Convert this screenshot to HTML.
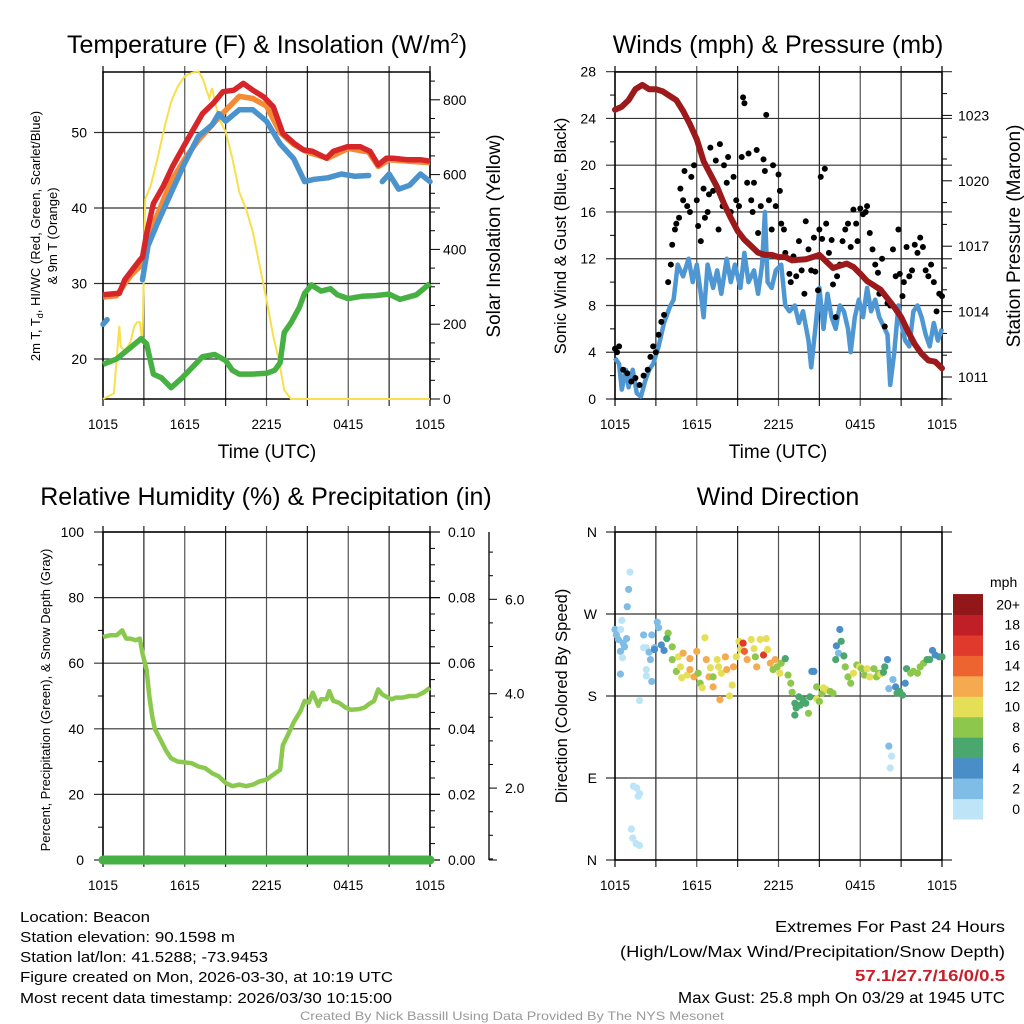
<!DOCTYPE html>
<html><head><meta charset="utf-8"><style>
html,body{margin:0;padding:0;background:#fff;}
svg{display:block;font-family:"Liberation Sans",Arial,sans-serif;}
</style></head><body>
<svg id="fig" width="1024" height="1024" viewBox="0 0 1024 1024" xmlns="http://www.w3.org/2000/svg"></svg>
<script>
// ---------- DATA ----------
const timeLabels = ["1015","1615","2215","0415","1015"];
const tempHours = [0,1.2,1.6,2.7,2.9,3.2,3.7,4.4,5.1,5.9,6.6,7.3,8.1,8.8,9.6,10.3,11.0,11.8,12.5,13.2,14.0,14.7,15.4,16.4,16.9,17.9,18.9,19.6,20.2,20.8,21.3,22.3,23.3,24];
const tempRed = [28.5,28.7,30.5,33.1,33.5,36.6,40.6,42.8,45.5,48.1,50.3,52.5,53.9,55.4,55.6,56.5,55.6,54.7,53.4,49.9,48.6,47.7,47.5,46.6,47.5,48.1,48.1,47.5,45.7,46.6,46.6,46.4,46.4,46.2];
const t9Hours = [0,1,2,3,3.5,5,6,7,8.5,10,11,12,13,14,15,16.5,18,19.5,20.2,21,22.5,24];
const temp9m = [28.2,28.4,31,32.8,37,43.5,46.5,49,52,54.8,54.5,53.5,50,48.4,47.4,46.6,47.9,47.4,45.5,46.4,46.2,46.0];
const wcHours = [0,0.3,null,2.9,3.3,4,5,6,7,8,8.5,9,10,11,12,13,14,14.8,15.5,16.5,17.5,18.5,19.5,null,20.5,21,21.7,22.5,23.3,24];
const tempBlue = [24.6,25.2,null,30.5,35,38,42,46,49.5,51,52.5,51.5,53,53,51.5,48.5,46.5,43.5,43.8,44,44.5,44.2,44.3,null,43.5,44.5,42.5,43,44.5,43.5];
const tdHours = [0,1,2,2.8,3.2,3.7,4.3,5,5.8,6.5,7.3,8.2,9,9.5,10,11,12,12.6,13,13.3,13.8,14.4,14.8,15.3,16,16.7,17.2,18,19,20,21,21.8,23,24];
const tempGreen = [19.3,20,21.5,22.7,22,18,17.5,16.2,17.5,18.8,20.3,20.6,19.8,18.5,18,18,18.1,18.5,19.5,23.5,24.8,26.8,28.7,29.8,29,29.3,28.5,28,28.3,28.4,28.6,27.9,28.5,30];
const solHours = [0,0.8,1.2,1.3,1.6,2,2.3,2.5,2.7,2.9,3.1,3.5,4,4.5,5,5.5,6,6.5,7,7.3,7.8,8,8.5,9,9.5,10,10.5,11,11.5,12,12.5,12.9,13.3,13.8,24];
const solar = [0,15,195,140,130,150,195,205,205,150,535,570,643,724,795,836,863,872,876,858,804,831,750,715,643,553,508,446,356,266,168,105,24,0,0];
const presHours = [0,0.5,1,1.5,2,2.5,3,3.5,4,4.5,5,5.5,6,6.5,7,7.5,8,8.5,9,9.5,10,10.5,11,11.5,12,12.5,13,13.5,14,14.5,15,15.5,16,16.5,17,17.5,18,18.5,19,19.5,20,20.5,21,21.5,22,22.5,23,23.5,24];
const pressure = [1023.26,1023.4,1023.7,1024.2,1024.4,1024.2,1024.2,1024.1,1023.9,1023.7,1023.2,1022.6,1021.9,1020.9,1020.3,1019.7,1018.95,1018.3,1017.7,1017.3,1017.0,1016.7,1016.6,1016.6,1016.5,1016.5,1016.35,1016.38,1016.4,1016.5,1016.6,1016.3,1016.0,1016.1,1016.2,1016.05,1015.74,1015.4,1015.2,1015.0,1014.6,1014.2,1013.75,1013.1,1012.5,1012.07,1011.76,1011.7,1011.4];
const windHours = [0,0.3,0.5,0.8,1,1.3,1.6,1.9,2.2,2.5,2.8,3.2,3.6,4,4.3,4.6,5,5.4,5.7,6,6.3,6.5,6.8,7.2,7.5,7.8,8.2,8.5,8.8,9.2,9.5,9.8,10.2,10.5,10.8,11,11.2,11.5,11.8,12.2,12.5,12.8,13.2,13.5,13.8,14.2,14.4,14.7,15,15.3,15.6,15.9,16.2,16.5,16.8,17.1,17.3,17.6,17.9,18.2,18.5,18.8,19.1,19.4,19.8,20,20.2,20.5,20.8,21,21.3,21.6,21.9,22.2,22.5,22.8,23.1,23.4,23.7,24];
const windSpeed = [3.5,3.0,0.8,2.5,1.0,2.5,0.5,0.2,1.5,2.5,3.0,4.5,6.5,7.8,8.5,11.5,10.5,12,10,11.5,9,7,11.5,9.5,11,9,12,10,11.5,9.5,12.5,10,11,9,11.5,16,10,9.5,11,11.5,8,7.5,8,6.5,7.5,5,2.7,6,9.5,6,9,7,6,8,7.5,6,4.0,7,8.5,7,9.5,7.5,8.5,7,6,5.5,1.2,4,8,6.5,5,4.5,7.5,8,7,5.5,4.5,6.5,5,6];
const gustHours = [0,0.15,0.3,0.6,0.9,1.2,1.5,1.8,2.1,2.4,2.6,2.8,3,3.2,3.4,3.6,3.9,4.1,4.2,4.4,4.5,4.7,4.8,5.0,5.1,5.3,5.5,5.6,5.8,6.0,6.1,6.3,6.5,6.6,6.8,6.9,7.0,7.2,7.4,7.6,7.7,7.9,8.0,8.2,8.3,8.5,8.7,8.9,9.1,9.3,9.4,9.5,9.7,9.8,10.0,10.1,10.2,10.4,10.5,10.7,10.9,11.0,11.1,11.3,11.5,11.6,11.8,12.0,12.1,12.2,12.4,12.5,12.8,12.9,13.1,13.3,13.5,13.7,13.9,14.0,14.2,14.4,14.6,14.7,14.9,15.0,15.1,15.2,15.4,15.5,15.7,15.9,16.0,16.2,16.3,16.5,16.7,16.9,17.1,17.3,17.5,17.7,17.8,18.0,18.2,18.4,18.5,18.7,18.9,19.1,19.3,19.4,19.6,19.8,20.0,20.2,20.4,20.6,20.8,20.9,21.1,21.2,21.4,21.6,21.8,22.0,22.2,22.4,22.6,22.8,23.0,23.2,23.4,23.6,23.8,24];
const gustSpeed = [4.3,4.0,4.5,2.5,2.2,1.5,1.8,1.2,2.0,2.5,3.6,4.5,4.0,5.5,6.6,7.2,10.0,11.5,13.2,14.5,15,15.5,18,17.0,19.5,16.5,16.0,19,20,17,14.8,13.5,18,15.5,16.0,17.5,21.5,17.8,20.4,14.5,21.8,16.5,20,18.5,20.7,16,19,17,16.5,20.7,25.8,25.3,18.5,21,17,16,18.5,21.3,14.2,16.5,20.5,19.5,24.3,17,14.5,20,16.5,19.2,17.8,15,14.5,12.5,10.7,10.0,12.2,10.5,13.5,11,9,15.2,12.8,11,13.8,10.9,9.3,14.5,19,13.7,19.7,15,12.5,13.6,9.8,7,10.5,11.5,13.5,14.5,15,13,16.2,15,13.5,16.3,15.8,16,16.5,14.2,12.8,11.5,10.8,9.0,12,6.2,8.2,8.0,12.8,10.5,14.5,10.7,8.8,10.0,13,10.5,11,13.2,12.5,13.8,13,11.0,10.5,11.5,10.0,7.5,9.0,8.8];
const rhHours = [0,0.5,1,1.4,1.7,2,2.4,2.7,2.9,3.2,3.4,3.6,3.8,4.3,4.6,5,5.5,6,6.5,7,7.5,8,8.5,9,9.5,10,10.5,11,11.5,12,12.5,13,13.2,13.5,14,14.5,14.8,15.1,15.4,15.8,16,16.4,16.6,16.9,17.3,17.8,18.2,18.8,19.2,19.5,19.9,20.2,20.5,20.9,21.2,21.5,22,22.5,23,23.5,24];
const rh = [68,68.5,68.5,70,67.5,67.5,67,67.5,63,58,50,44,40,36,33.5,31,30,29.8,29.5,28.5,28,26.5,25.5,23.5,22.5,23,22.5,23,24,24.5,26,27.5,35,37.5,42,45.5,48.5,48,51,47,49,49,51.5,48.5,48,46.5,45.8,46,46.5,47.5,48.5,52,50.5,49.5,49,49.5,49.5,50,50,51,52.5];
const precipHours = [0,24];
const precip = [0,0];
const dirHours = [0,0.1,0.25,0.4,0.6,0.7,0.85,0.5,0.42,0.55,0.4,0.9,1.0,1.1,1.8,1.35,1.6,1.8,1.7,1.2,1.3,1.55,1.8,2.1,2.1,2.3,2.3,2.3,2.5,2.6,2.7,2.7,2.9,3.1,3.2,3.4,2.9,3.6,3.9,3.8,4.2,4.2,4.5,4.65,4.8,5.0,5.3,5.5,5.5,5.8,6.0,4.9,6.1,6.25,6.4,6.6,6.7,6.9,7.0,7.2,7.5,7.6,7.2,7.7,7.8,8.1,8.2,8.4,8.6,8.7,8.9,9.1,9.2,9.4,9.5,9.7,10.0,10.2,10.3,10.4,10.65,10.9,11.1,11.2,11.4,11.6,11.75,11.9,12.1,12.2,12.5,12.7,12.9,13.0,13.2,13.3,13.2,13.5,13.6,13.8,14.0,14.2,14.3,14.45,14.6,14.8,14.8,15.0,15.2,15.3,15.5,15.8,16.0,16.2,16.25,16.4,16.5,16.6,16.8,16.9,17.1,17.3,17.5,17.75,17.95,18.1,18.3,18.5,18.7,19.0,19.2,19.35,19.5,19.7,19.8,20.0,20.1,20.3,20.2,20.1,20.4,20.6,20.7,20.9,21.1,21.3,21.4,21.7,21.9,22.2,22.4,22.65,22.9,23.1,23.3,23.5,23.8,24];
const dirDeg = [253,247,242,229,238,234,243,263,253,222,204,278,297,316,175,81,79,73,70,34,24,18,16,247,233,233,209,202,228,220,196,247,233,261,255,236,231,230,249,243,234,220,207,223,212,227,203,221,209,201,229,200,205,194,189,244,220,201,211,201,220,212,190,176,205,223,209,180,192,212,223,240,231,238,229,220,242,232,223,212,242,225,243,231,216,209,220,212,205,216,221,203,194,184,172,167,159,179,170,176,172,161,179,207,207,177,190,174,183,189,187,185,183,220,235,227,253,240,224,212,201,194,205,214,212,210,203,210,201,210,201,205,204,206,212,220,125,114,101,188,198,190,183,185,181,194,210,205,207,205,212,216,220,220,230,225,223,223];
const dirSpeed = [3,3,2,3,3,3,3,1,1,1,3,3,3,1,1,1,1,1,1,1,1,1,1,3,1,1,1,1,3,3,3,3,3,3,3,5,5,5,8,7,8,8,8,11,11,12,10,12,12,12,13,10,9,8,10,10,12,12,10,8,10,10,12,13,11,12,12,10,11,12,10,10,11,16,14,12,10,10,8,12,10,17,10,10,12,8,12,9,10,9,7,8,8,8,6,6,6,6,6,6,6,8,6,4,4,10,8,8,8,10,10,8,8,6,4,3,4,6,6,8,8,8,10,8,10,8,8,10,10,8,8,8,10,6,6,4,3,1,1,3,3,4,6,6,6,4,6,8,8,8,8,8,6,6,4,4,4,6];
const speedBinLabels = ["0","2","4","6","8","10","12","14","16","18","20+"];
const speedBinColors = ["#bde5f7","#7fbde6","#4a8ec8","#4aa76d","#8dc74b","#e5df57","#f6aa4f","#ee6431","#df3a2c","#c01f28","#921719"];

// ---------- HELPERS ----------
const NS="http://www.w3.org/2000/svg";
const svg=document.getElementById('fig');
function mk(tag, attrs, parent){
  const e=document.createElementNS(NS,tag);
  for(const k in attrs) e.setAttribute(k,attrs[k]);
  (parent||svg).appendChild(e);
  return e;
}
function txt(s,x,y,size,anchor,parent,extra){
  const t=mk('text',Object.assign({x:x,y:y,'font-size':size,'text-anchor':anchor||'middle',fill:'#000'},extra||{}),parent);
  t.textContent=s;
  return t;
}
function pathFrom(xs,ys,fx,fy){
  let d='',pen=false;
  for(let i=0;i<xs.length;i++){
    if(xs[i]===null||ys[i]===null){pen=false;continue;}
    d+=(pen?'L':'M')+fx(xs[i]).toFixed(1)+' '+fy(ys[i]).toFixed(1);
    pen=true;
  }
  return d;
}
function frame(g,x0,x1,y0,y1,hTicksY,name){
  const gx=mk('g',{},g);
  
  
  for(let i=1;i<8;i++){
    const x=x0+(x1-x0)*i/8;
    mk('line',{x1:x,x2:x,y1:y0-6,y2:y1+7,stroke:i%2?'#222':'#555','stroke-width':1.2},gx);
  }
  mk('line',{x1:x0,x2:x0,y1:y0-6,y2:y1+7,stroke:'#000','stroke-width':1.2},gx);
  mk('line',{x1:x1,x2:x1,y1:y0-6,y2:y1+7,stroke:'#000','stroke-width':1.2},gx);
  hTicksY.forEach(y=>mk('line',{x1:x0-9,x2:x1+10,y1:y,y2:y,stroke:'#333','stroke-width':1.2},gx));
  mk('rect',{x:x0,y:y0,width:x1-x0,height:y1-y0,fill:'none',stroke:'#000','stroke-width':1.5},gx);
}
function timeAxis(g,x0,x1,y){
  timeLabels.forEach((l,i)=>{
    const t=txt(l,x0+(x1-x0)*i/4,y,13.5,'middle',g);
    
    
  });
}

// ---------- PANEL 1 ----------
(function(){
  const g=mk('g',{});
  
  
  const x0=103,x1=430,y0=72,y1=399;
  const fx=h=>x0+h/24*(x1-x0);
  const fy=t=>359-(t-20)*7.55;
  const fs=w=>399-w*0.374;
  frame(g,x0,x1,y0,y1,[20,30,40,50].map(fy),'temperature');
  [20,30,40,50].forEach(v=>{const t=txt(String(v),87,fy(v)+5,14,'end',g);});
  for(let w=0;w<=850;w+=50){const y=fs(w);mk('line',{x1:x1,x2:x1+(w%200===0?10:5),y1:y,y2:y,stroke:'#000','stroke-width':1},g);}
  [0,200,400,600,800].forEach(v=>{const t=txt(String(v),443,fs(v)+5,14,'start',g);});
  const sol=mk('path',{d:pathFrom(solHours,solar,fx,fs),fill:'none',stroke:'#f7e04b','stroke-width':2},g);
  
  
  const gr=mk('path',{d:pathFrom(tdHours,tempGreen,fx,fy),fill:'none',stroke:'#46b142','stroke-width':5.5,'stroke-linejoin':'round'},g);
  
  
  const o=mk('path',{d:pathFrom(t9Hours,temp9m,fx,fy),fill:'none',stroke:'#f58a34','stroke-width':5.5,'stroke-linejoin':'round'},g);
  
  
  const b=mk('path',{d:pathFrom(wcHours,tempBlue,fx,fy),fill:'none',stroke:'#4b93cc','stroke-width':5.5,'stroke-linejoin':'round','stroke-linecap':'round'},g);
  
  
  const r=mk('path',{d:pathFrom(tempHours,tempRed,fx,fy),fill:'none',stroke:'#d7262a','stroke-width':5.5,'stroke-linejoin':'round'},g);
  
  
  const ti=mk('text',{x:267,y:53,'font-size':25,'text-anchor':'middle'},g);
  
  
  ti.innerHTML='Temperature (F) &amp; Insolation (W/m<tspan font-size="15" dy="-10">2</tspan><tspan dy="10">)</tspan>';
  timeAxis(g,x0,x1,429);
  const xt=txt('Time (UTC)',267,458,19,'middle',g);
  
  
  const ya=mk('text',{transform:'translate(40,236) rotate(-90)','font-size':13,'text-anchor':'middle'},g);
  
  
  ya.innerHTML='2m T, T<tspan font-size="9" dy="3">d</tspan><tspan dy="-3">, HI/WC (Red, Green, Scarlet/Blue)</tspan>';
  const ya2=txt('& 9m T (Orange)',0,0,13,'middle',g,{transform:'translate(57,236) rotate(-90)'});
  
  
  const yr=txt('Solar Insolation (Yellow)',0,0,19,'middle',g,{transform:'translate(500,236) rotate(-90)'});
  
  
})();

// ---------- PANEL 2 ----------
(function(){
  const g=mk('g',{});
  
  
  const x0=615,x1=942,y0=72,y1=399;
  const fx=h=>x0+h/24*(x1-x0);
  const fy=v=>399-v*11.69;
  const fp=p=>377-(p-1011)*21.8;
  frame(g,x0,x1,y0,y1,[0,4,8,12,16,20,24,28].map(fy),'winds');
  for(let v=2;v<28;v+=4){mk('line',{x1:x0-5,x2:x0,y1:fy(v),y2:fy(v),stroke:'#000'},g);}
  [0,4,8,12,16,20,24,28].forEach(v=>{const t=txt(String(v),596,fy(v)+5,14,'end',g);});
  for(let p=1010;p<=1026;p++){const y=fp(p);if(y<y0||y>y1)continue;mk('line',{x1:x1,x2:x1+(p%3===0?10:5),y1:y,y2:y,stroke:'#000'},g);}
  [1011,1014,1017,1020,1023].forEach(v=>{const t=txt(String(v),958,fp(v)+5,14,'start',g);});
  const w=mk('path',{d:pathFrom(windHours,windSpeed,fx,fy),fill:'none',stroke:'#4f97d2','stroke-width':4.5,'stroke-linejoin':'round'},g);
  
  
  const gg=mk('g',{},g);
  
  
  gustHours.forEach((h,i)=>{
    const c=mk('circle',{cx:fx(h),cy:fy(gustSpeed[i]),r:3,fill:'#000'},gg);
    
    
  });
  const p=mk('path',{d:pathFrom(presHours,pressure,fx,fp),fill:'none',stroke:'#9c1a1c','stroke-width':6,'stroke-linejoin':'round','stroke-linecap':'round'},g);
  
  
  const ti=txt('Winds (mph) & Pressure (mb)',778,53,25,'middle',g);
  
  
  timeAxis(g,x0,x1,429);
  const xt=txt('Time (UTC)',778,458,19,'middle',g);
  
  
  const ya=txt('Sonic Wind & Gust (Blue, Black)',0,0,16.5,'middle',g,{transform:'translate(566,236) rotate(-90)'});
  
  
  const yr=txt('Station Pressure (Maroon)',0,0,19,'middle',g,{transform:'translate(1020,236) rotate(-90)'});
  
  
})();

// ---------- PANEL 3 ----------
(function(){
  const g=mk('g',{});
  
  
  const x0=103,x1=430,y0=532,y1=860;
  const fx=h=>x0+h/24*(x1-x0);
  const fy=v=>860-v*3.28;
  const fpr=v=>860-v*3280;
  frame(g,x0,x1,y0,y1,[0,20,40,60,80,100].map(fy),'humidity');
  for(let v=10;v<100;v+=20){mk('line',{x1:x0-5,x2:x0,y1:fy(v),y2:fy(v),stroke:'#000'},g);}
  [0,20,40,60,80,100].forEach(v=>{const t=txt(String(v),84,fy(v)+5,14,'end',g);});
  for(let k=0;k<=20;k++){const y=fpr(k*0.005);mk('line',{x1:x1,x2:x1+(k%4===0?10:5),y1:y,y2:y,stroke:'#000'},g);}
  [0,0.02,0.04,0.06,0.08,0.10].forEach(v=>{const t=txt(v.toFixed(2),448,fpr(v)+5,14,'start',g);});
  const sa=mk('g',{},g);
  
  
  mk('line',{x1:489,x2:489,y1:y0,y2:y1,stroke:'#000','stroke-width':1.3},sa);
  const fsd=v=>882.5-v*47.2;
  for(let k=1;k<=14;k++){const v=k*0.5;const y=fsd(v);if(y<y0||y>y1)continue;mk('line',{x1:489,x2:489+(k%4===0?8:4),y1:y,y2:y,stroke:'#000'},sa);}
  mk('line',{x1:489,x2:497,y1:y1,y2:y1,stroke:'#000'},sa);
  ['2.0','4.0','6.0'].forEach((l,i)=>{const t=txt(l,505,fsd((i+1)*2)+5,14,'start',sa);});
  const rl=mk('path',{d:pathFrom(rhHours,rh,fx,fy),fill:'none',stroke:'#8bc94e','stroke-width':4.5,'stroke-linejoin':'round'},g);
  
  
  const sd=mk('circle',{cx:fx(3.3),cy:860,r:5,fill:'#bbb'},g);
  
  
  const pl=mk('path',{d:pathFrom(precipHours,precip,fx,fpr),fill:'none',stroke:'#45b043','stroke-width':9,'stroke-linecap':'round'},g);
  
  
  const ti=txt('Relative Humidity (%) & Precipitation (in)',266,505,25,'middle',g);
  
  
  timeAxis(g,x0,x1,890);
  const ya=txt('Percent, Precipitation (Green), & Snow Depth (Gray)',0,0,13,'middle',g,{transform:'translate(50,700) rotate(-90)'});
  
  
})();

// ---------- PANEL 4 ----------
(function(){
  const g=mk('g',{});
  
  
  const x0=615,x1=942,y0=532,y1=860;
  const fx=h=>x0+h/24*(x1-x0);
  const fy=d=>860-d*(328/360);
  frame(g,x0,x1,y0,y1,[0,90,180,270,360].map(fy),'direction');
  ['N','E','S','W','N'].forEach((l,i)=>{const t=txt(l,597,fy(i*90)+5,14,'end',g);});
  const pts=mk('g',{},g);
  
  
  dirHours.forEach((h,i)=>{
    const bin=Math.min(10,Math.floor(dirSpeed[i]/2));
    const c=mk('circle',{cx:fx(h),cy:fy(dirDeg[i]),r:3.6,fill:speedBinColors[bin]},pts);
    
    
  });
  const cb=mk('g',{},g);
  
  
  const bh=20.45;
  speedBinColors.forEach((c,i)=>{
    const y=819-(i+1)*bh;
    mk('rect',{x:953,y:y,width:30,height:bh+0.5,fill:c},cb);
    const t=txt(speedBinLabels[i],1020,y+bh/2+5,14,'end',cb);
    
    
  });
  const u=txt('mph',990,587,14,'start',cb);
  
  
  const ti=txt('Wind Direction',778,505,25,'middle',g);
  
  
  timeAxis(g,x0,x1,890);
  const ya=txt('Direction (Colored By Speed)',0,0,16.5,'middle',g,{transform:'translate(567,696) rotate(-90)'});
  
  
})();

// ---------- FOOTER ----------
(function(){
  const g=mk('g',{});
  
  
  const L=[["Location: Beacon",922,130],["Station elevation: 90.1598 m",942,215],["Station lat/lon: 41.5288; -73.9453",962,248],["Figure created on Mon, 2026-03-30, at 10:19 UTC",982,373],["Most recent data timestamp: 2026/03/30 10:15:00",1003,372]];
  L.forEach(a=>{const t=txt(a[0],20,a[1],15,'start',g,{textLength:a[2],lengthAdjust:'spacingAndGlyphs'});});
  const g2=mk('g',{});
  
  
  const R=[["Extremes For Past 24 Hours",932,230,'#000','normal'],["(High/Low/Max Wind/Precipitation/Snow Depth)",957,385,'#000','normal'],["57.1/27.7/16/0/0.5",981,150,'#c8202a','bold'],["Max Gust: 25.8 mph On 03/29 at 1945 UTC",1003,327,'#000','normal']];
  R.forEach(a=>{const t=txt(a[0],1005,a[1],15.5,'end',g2,{textLength:a[2],lengthAdjust:'spacingAndGlyphs',fill:a[3],'font-weight':a[4]});});
  const c=txt('Created By Nick Bassill Using Data Provided By The NYS Mesonet',512,1020,12,'middle',svg,{fill:'#999',textLength:424,lengthAdjust:'spacingAndGlyphs'});
  
  
})();
</script>
</body></html>
